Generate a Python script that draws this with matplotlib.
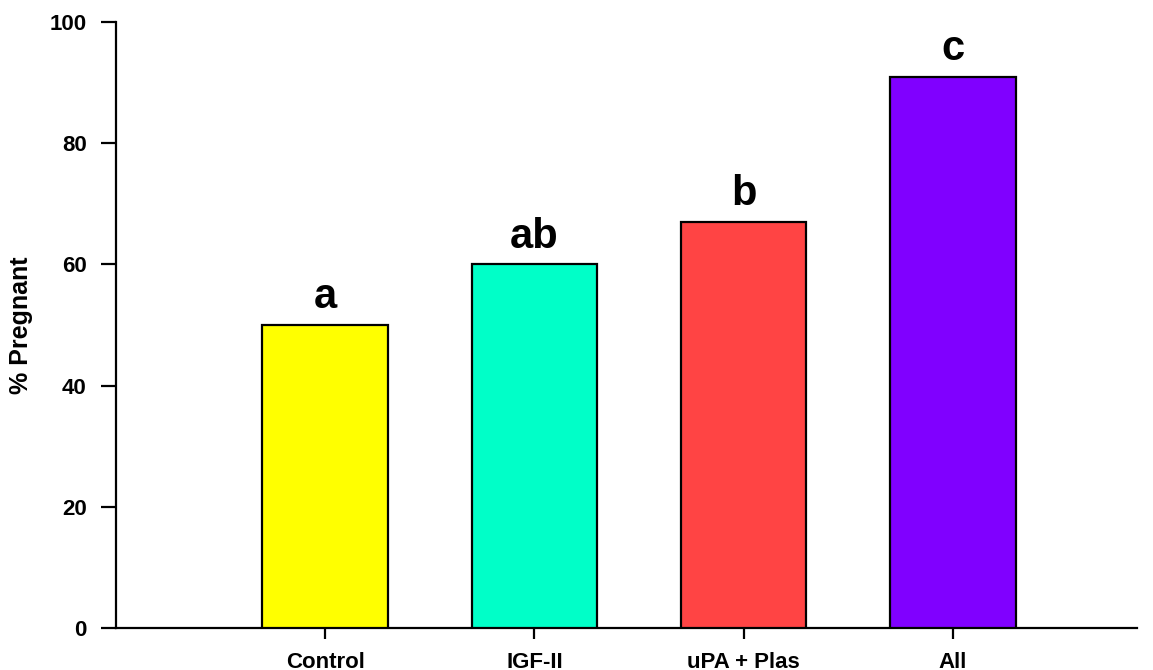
"""Bar chart of pregnancy rate by treatment group."""

import matplotlib

matplotlib.use("Agg")
import matplotlib.pyplot as plt

groups = ["Control", "IGF-II", "uPA + Plas", "All"]
pregnant_pct = [50, 60, 67, 91]
sig_letters = ["a", "ab", "b", "c"]
bar_colors = ["#FFFF00", "#00FFC8", "#FF4444", "#8000FF"]
y_ticks = [0, 20, 40, 60, 80, 100]

plt.rcParams["font.family"] = ["Liberation Sans", "DejaVu Sans"]
plt.rcParams["font.weight"] = "bold"

fig = plt.figure(figsize=(11.53, 6.70), dpi=100)
ax = fig.add_axes([116 / 1153, 1 - 628 / 670, (1137 - 116) / 1153, (628 - 22) / 670])

positions = list(range(len(groups)))
bars = ax.bar(positions, pregnant_pct, width=0.6, color=bar_colors,
              edgecolor="black", linewidth=1.6, zorder=3)

for bar, letter in zip(bars, sig_letters):
    ax.annotate(letter, (bar.get_x() + bar.get_width() / 2, bar.get_height()),
                xytext=(0, 12), textcoords="offset points",
                ha="center", va="baseline", fontsize=30, fontweight="bold")

ax.set_xlim(-1, 3.88)
ax.set_ylim(0, 100)
ax.set_yticks(y_ticks)
ax.set_xticks(positions)
ax.set_xticklabels(groups)
ax.set_ylabel("% Pregnant", fontsize=18, fontweight="bold", labelpad=12)

for side in ("top", "right"):
    ax.spines[side].set_visible(False)
for side in ("left", "bottom"):
    ax.spines[side].set_linewidth(1.6)

ax.tick_params(axis="y", direction="out", length=11, width=1.6, pad=10,
               labelsize=16)
ax.tick_params(axis="x", direction="out", length=8, width=1.6, pad=9,
               labelsize=16)

fig.savefig("out.png", dpi=100)
